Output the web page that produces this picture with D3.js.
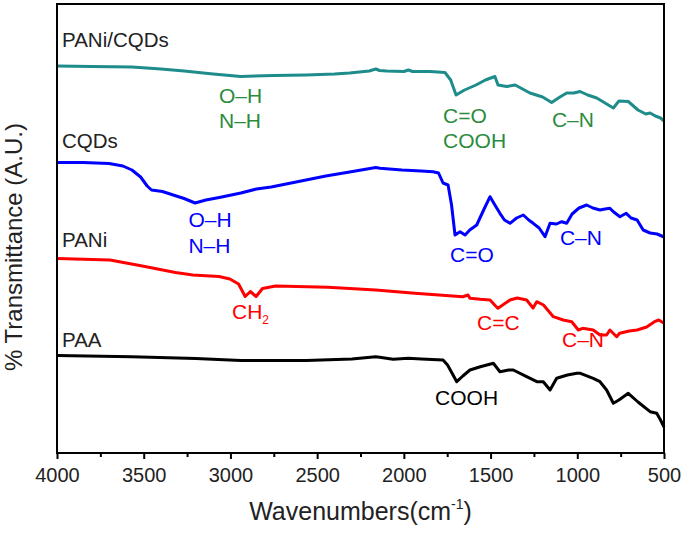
<!DOCTYPE html>
<html lang="en">
<head>
    <meta charset="UTF-8">
    <title>FTIR spectra</title>
    <script src="https://cdn.jsdelivr.net/npm/d3@7"></script>
    <style>
        body { margin: 0; background: #fff; }
        text { font-family: "Liberation Sans", Arial, sans-serif; }
    </style>
</head>
<body>
<svg id="main" width="685" height="536"></svg>
<script>
    // wavenumber (cm-1), offset transmittance (a.u.)
    const paniCqds = [
        [4000,387],[3800,386.5],[3568,386],[3400,384],[3267,382],[3100,379],[2940,376.5],[2750,377.5],
        [2564,378],[2400,379],[2313,380],[2200,382],[2162,384],[2140,382.5],[2100,382],[2000,381.5],
        [1974,383],[1950,381.5],[1850,381.5],[1763,380.5],[1730,373],[1699,358],[1650,363],[1584,368],
        [1530,373],[1475,376.5],[1457,368],[1407,366.5],[1358,368],[1273,360],[1200,356],[1148,350.5],
        [1100,356],[1061,360],[1020,360],[984,361.5],[940,358],[888,355],[840,350],[792,345],[760,352],
        [706,351.5],[650,343],[605,339],[580,340],[550,337],[520,335],[500,332]
    ];
    const cqds = [
        [4000,290.5],[3850,290.5],[3700,289.5],[3620,287],[3568,283],[3518,276],[3480,267],[3455,263],
        [3392,261.5],[3330,258],[3267,254.5],[3204,250],[3141,253],[3050,256],[2940,260],[2850,264],
        [2765,266],[2650,270],[2564,273],[2450,277],[2313,281],[2162,285.5],[2138,284.7],[2011,283],
        [1900,282],[1832,281.3],[1800,280],[1774,270],[1745,268],[1725,248],[1705,218],[1676,221.3],
        [1647,218],[1620,223],[1580,228],[1540,243],[1503,256.3],[1475,248],[1446,239.7],[1420,233],
        [1388,229.7],[1350,235],[1311,238],[1280,233],[1254,229.7],[1220,225],[1186,216.3],[1157,229.7],
        [1120,229],[1090,231.3],[1061,229.7],[1030,239],[990,245],[946,248],[910,245],[869,243],[840,244],
        [812,244.7],[790,241],[754,236.3],[718,239.7],[690,235],[655,233],[620,223],[580,220],[540,219],[500,216]
    ];
    const pani = [
        [4000,194.5],[3694,193],[3493,186.5],[3317,180.5],[3217,178],[3066,176.5],[3003,174],[2953,169],
        [2915,156.5],[2885,161.5],[2852,156.5],[2815,164.5],[2739,167],[2438,165.7],[2162,163],[1936,159.7],
        [1660,156.3],[1630,158],[1619,154.7],[1559,153.7],[1503,153],[1471,147],[1457,144.7],[1388,153],
        [1346,155],[1292,153],[1255,145],[1234,151.3],[1195,148],[1138,136.3],[1081,133],[1032,131.3],
        [994,123],[969,124.7],[908,123],[869,118],[831,118],[812,123],[773,116.3],[756,119.7],[700,122],
        [655,123],[600,126],[555,131.3],[530,133],[500,129.7]
    ];
    const paa = [
        [4000,97.5],[3568,96.3],[3200,94.5],[2940,92.5],[2564,92.5],[2300,94],[2162,96.3],[2140,95.7],
        [2062,93.7],[1974,94.7],[1900,94],[1774,93],[1748,88],[1695,71.3],[1660,77],[1619,83],[1559,86.3],
        [1484,89.7],[1446,81.3],[1396,83],[1369,83],[1292,76.3],[1233,71.3],[1196,71.3],[1157,63],
        [1119,74.7],[1057,78],[1003,79.7],[982,79.7],[908,74.7],[869,71.3],[831,63],[792,49.7],[760,53],
        [706,59.7],[650,51],[580,41.3],[542,39.7],[520,33],[500,26]
    ];
    const seriesNames = ['PANi/CQDs', 'CQDs', 'PANi', 'PAA'];
    const majorTicks = [4000, 3500, 3000, 2500, 2000, 1500, 1000, 500];
    const minorTicks = [3750, 3250, 2750, 2250, 1750, 1250, 750];

    // labels: text, wavenumber, value, colour index
    const nameLabels = [
        ['PANi/CQDs', 3971, 406], ['CQDs', 3971, 305], ['PANi', 3971, 206], ['PAA', 3971, 106]
    ];
    const bandLabels = [
        ['O\u2013H', 3066, 350, 0], ['N\u2013H', 3066, 325, 0], ['C=O', 1774, 330, 0],
        ['COOH', 1774, 305, 0], ['C\u2013N', 1146, 326, 0],
        ['O\u2013H', 3242, 226, 1], ['N\u2013H', 3242, 200, 1], ['C=O', 1734, 191, 1], ['C\u2013N', 1100, 208, 1],
        ['CH', 2991, 134, 2], ['C=C', 1578, 123, 2], ['C\u2013N', 1088, 106, 2],
        ['COOH', 1820, 48, 3]
    ];

    const lineColors = ['#1f8c8c', '#0000ff', '#ff0000', '#000000'];
    const textColors = ['#2a8c3c', '#0000ff', '#ff0000', '#000000'];

    const mLeft = 57, mRight = 664, mTop = 4, mBottom = 453;
    const svg = d3.select('svg#main');

    const x = d3.scaleLinear().domain([4000, 500]).range([mLeft, mRight]);
    const y = d3.scaleLinear().domain([0, 449]).range([mBottom, mTop]);

    const line = d3.line()
        .x(d => x(d[0]))
        .y(d => y(d[1]));

    [paniCqds, cqds, pani, paa].forEach((s, i) => {
        svg.append('path')
            .datum(s)
            .attr('d', line)
            .attr('fill', 'none')
            .attr('stroke', lineColors[i])
            .attr('stroke-width', 3)
            .attr('stroke-linejoin', 'round');
    });

    // frame
    svg.append('rect')
        .attr('x', mLeft).attr('y', mTop)
        .attr('width', mRight - mLeft).attr('height', mBottom - mTop)
        .attr('fill', 'none').attr('stroke', '#000').attr('stroke-width', 2);

    const xAxis = svg.append('g')
        .attr('transform', `translate(0,${mBottom})`)
        .call(d3.axisBottom(x).tickValues(majorTicks).tickFormat(d3.format('d'))
            .tickSizeInner(6).tickSizeOuter(0).tickPadding(9));
    xAxis.select('.domain').remove();
    xAxis.selectAll('line').attr('stroke-width', 2);
    xAxis.selectAll('text').attr('font-size', 20).attr('fill', '#222')
        .style('font-family', '"Liberation Sans", Arial, sans-serif');

    const minor = svg.append('g')
        .attr('transform', `translate(0,${mBottom})`)
        .call(d3.axisBottom(x).tickValues(minorTicks).tickSize(4).tickFormat(''));
    minor.select('.domain').remove();
    minor.selectAll('line').attr('stroke-width', 2);

    svg.selectAll('text.name')
        .data(nameLabels)
        .enter()
        .append('text')
        .attr('class', 'name')
        .attr('x', d => x(d[1]))
        .attr('y', d => y(d[2]))
        .attr('font-size', 20.5)
        .attr('fill', '#222')
        .text(d => d[0]);

    const bl = svg.selectAll('text.band')
        .data(bandLabels)
        .enter()
        .append('text')
        .attr('class', 'band')
        .attr('x', d => x(d[1]))
        .attr('y', d => y(d[2]))
        .attr('font-size', 21)
        .attr('fill', d => textColors[d[3]])
        .text(d => d[0]);
    // subscript for CH2
    bl.filter(d => d[0] === 'CH')
        .append('tspan').attr('font-size', 12).attr('dy', 5).text('2');

    // axis titles
    const xt = svg.append('text')
        .attr('x', (mLeft + mRight) / 2)
        .attr('y', 520)
        .attr('text-anchor', 'middle')
        .attr('font-size', 25)
        .attr('fill', '#222')
        .text('Wavenumbers(cm');
    xt.append('tspan').attr('font-size', 14).attr('dy', -11).text('-1');
    xt.append('tspan').attr('dy', 11).text(')');

    svg.append('text')
        .attr('transform', 'translate(22,247) rotate(-90)')
        .attr('text-anchor', 'middle')
        .attr('font-size', 24)
        .attr('fill', '#222')
        .text('% Transmittance (A.U.)');
</script>
</body>
</html>
